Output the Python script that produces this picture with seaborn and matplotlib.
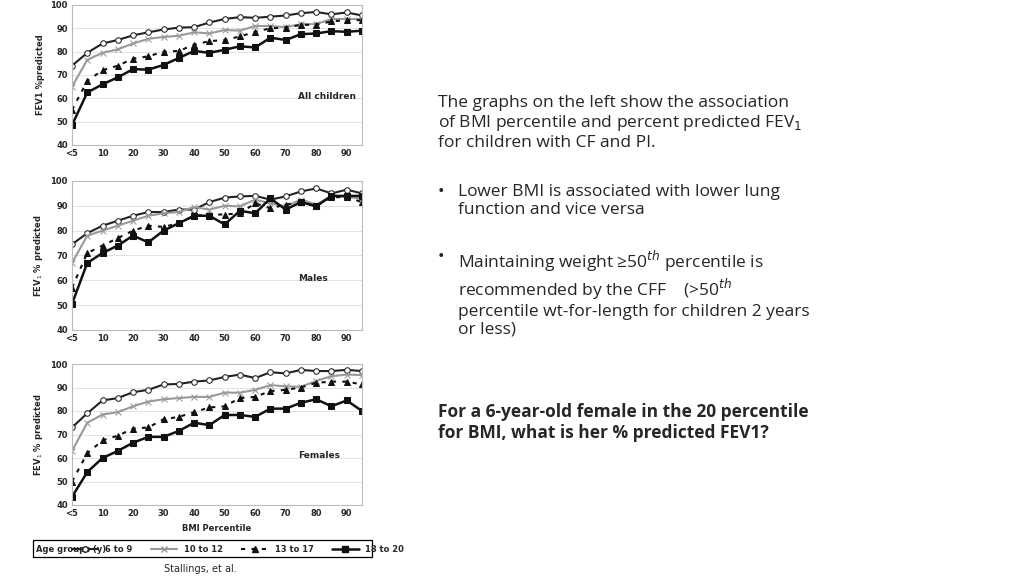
import numpy as np
import pandas as pd
import matplotlib
matplotlib.use("Agg")
import matplotlib.pyplot as plt
import seaborn as sns
from matplotlib.lines import Line2D
from matplotlib.patches import Rectangle

sns.set_style("white")

# BMI percentile positions: "<5", 5, 10, ... 95
bmi_pct = [0, 5, 10, 15, 20, 25, 30, 35, 40, 45, 50, 55, 60, 65, 70, 75, 80, 85, 90, 95]
tick_pos = [0, 10, 20, 30, 40, 50, 60, 70, 80, 90]
tick_labels = ["<5", "10", "20", "30", "40", "50", "60", "70", "80", "90"]
age_groups = ["6 to 9", "10 to 12", "13 to 17", "18 to 20"]

all_children = {
    "6 to 9":   [74, 79.5, 83.5, 85, 87, 88.3, 89.5, 90.3, 90.5, 92.5, 94, 94.8, 94.5, 95, 95.5, 96.5, 97, 96, 96.8, 95.5],
    "10 to 12": [65, 76.5, 79.5, 81, 83.5, 85.5, 86.3, 86.8, 88.3, 87.8, 89.3, 89, 91, 91, 90.5, 91.8, 91.8, 94, 94, 94],
    "13 to 17": [55, 67.5, 72, 74, 77, 78, 80, 80.3, 83, 84.5, 85, 86.5, 88.5, 90, 90.3, 91.5, 91.5, 93, 93.5, 93.5],
    "18 to 20": [48.5, 62.5, 66, 69, 72.5, 72.3, 74.3, 77.3, 80.3, 79.5, 80.8, 82.3, 81.8, 86, 85, 87.5, 87.8, 88.8, 88.5, 89],
}
males = {
    "6 to 9":   [74.5, 79, 82, 84, 86, 87.5, 87.5, 88.5, 88.5, 91.5, 93.3, 93.8, 94, 92.5, 93.8, 95.8, 97, 95, 96.5, 95],
    "10 to 12": [67, 78, 80, 82, 84, 86, 87, 87.5, 89.5, 88.5, 90, 89.8, 92.5, 91, 89.8, 92.5, 90.5, 94, 93.5, 93],
    "13 to 17": [57, 71, 74, 77, 80, 82, 81.5, 83, 86, 86.5, 86.5, 87, 91, 89, 90.5, 91.5, 90, 93.5, 93.5, 91.5],
    "18 to 20": [50.5, 67, 71, 74, 78, 75.3, 80, 83, 86, 86, 82.5, 88, 87, 93, 88.5, 91.5, 89.8, 94, 94, 94],
}
females = {
    "6 to 9":   [73, 79, 84.5, 85.5, 88, 89, 91.3, 91.5, 92.5, 93, 94.5, 95.5, 94, 96.5, 96, 97.5, 97, 97, 97.5, 97],
    "10 to 12": [63, 75, 78.5, 79.5, 82, 84, 85, 85.5, 86, 86, 87.8, 87.8, 89, 91, 90.5, 90.3, 92.8, 94.8, 95.5, 95.3],
    "13 to 17": [50, 62, 67.5, 69.5, 72.5, 73, 76.5, 77.5, 79.5, 81.5, 82, 85.5, 86, 88.5, 89, 90, 92, 92.5, 92.5, 91.3],
    "18 to 20": [43.5, 54, 60, 63, 66.5, 69, 69, 71.5, 75, 74, 78.3, 78.3, 77.5, 81, 81, 83.5, 85, 82, 84.5, 80],
}

styles = {
    "6 to 9":   dict(color="#222222", marker="o", mfc="white", ls="-", lw=1.5, ms=4),
    "10 to 12": dict(color="#999999", marker="x", mfc="none", ls="-", lw=1.5, ms=5),
    "13 to 17": dict(color="#111111", marker="^", mfc="#111111", ls=(0, (2, 3)), lw=1.5, ms=4),
    "18 to 20": dict(color="#111111", marker="s", mfc="#111111", ls="-", lw=1.8, ms=4),
}


def draw_panel(ax, data, label, ylabel, xlabel=None):
    for g in age_groups:
        df = pd.DataFrame({"bmi": bmi_pct, "fev": data[g]})
        st = styles[g]
        sns.lineplot(data=df, x="bmi", y="fev", ax=ax, color=st["color"], lw=st["lw"],
                     linestyle=st["ls"], marker=st["marker"], markersize=st["ms"],
                     markerfacecolor=st["mfc"], markeredgecolor=st["color"])
    ax.set_xlim(0, 95)
    ax.set_ylim(40, 100)
    ax.set_yticks(range(40, 101, 10))
    ax.set_xticks(tick_pos)
    ax.set_xticklabels(tick_labels)
    ax.tick_params(labelsize=6, length=0, pad=3)
    for t in ax.get_xticklabels() + ax.get_yticklabels():
        t.set_fontweight("bold")
    ax.grid(axis="y", color="#dddddd", lw=0.6)
    for s in ax.spines.values():
        s.set_color("#bbbbbb")
        s.set_linewidth(0.8)
    ax.set_ylabel(ylabel, fontsize=6, fontweight="bold")
    ax.set_xlabel(xlabel if xlabel else "", fontsize=6, fontweight="bold")
    ax.text(0.78, 0.33, label, transform=ax.transAxes, fontsize=6.5, fontweight="bold")


fig = plt.figure(figsize=(10.24, 5.76), dpi=100)
W, H = 1024, 576


def axes_px(x0, y0, x1, y1):
    return fig.add_axes([x0 / W, 1 - y1 / H, (x1 - x0) / W, (y1 - y0) / H])


ax1 = axes_px(72, 5, 362, 145)
draw_panel(ax1, all_children, "All children", "FEV1 %predicted")
ax2 = axes_px(72, 181, 362, 330)
draw_panel(ax2, males, "Males", "FEV$_1$ % predicted")
ax3 = axes_px(72, 364, 362, 505)
draw_panel(ax3, females, "Females", "FEV$_1$ % predicted", "BMI Percentile")

# legend box
handles = [Line2D([], [], color=styles[g]["color"], ls=styles[g]["ls"], lw=styles[g]["lw"],
                  marker=styles[g]["marker"], ms=styles[g]["ms"], mfc=styles[g]["mfc"],
                  mec=styles[g]["color"]) for g in age_groups]
fig.legend(handles, age_groups, loc="center", bbox_to_anchor=(238 / W, 1 - 549 / H),
           ncol=4, frameon=False, handlelength=3.2, columnspacing=2.2,
           prop={"weight": "bold", "size": 6})
fig.patches.append(Rectangle((33 / W, 1 - 557 / H), 339 / W, 17 / H, transform=fig.transFigure,
                             fill=False, edgecolor="black", lw=0.9))
fig.text(36 / W, 1 - 549 / H, "Age groups (y)", fontsize=6, fontweight="bold", va="center")

fig.text(200 / W, 1 - 569 / H, "Stallings, et al.", fontsize=7, ha="center", va="center")

txt = dict(fontsize=12.5, fontfamily="Open Sans", va="top")
fig.text(438 / W, 1 - 95 / H, "The graphs on the left show the association\n"
         "of BMI percentile and percent predicted FEV$_1$\nfor children with CF and PI.",
         linespacing=1.15, **txt)
fig.text(438 / W, 1 - 184 / H, "•", **txt)
fig.text(458 / W, 1 - 184 / H, "Lower BMI is associated with lower lung\nfunction and vice versa",
         linespacing=1.15, **txt)
fig.text(438 / W, 1 - 249 / H, "•", **txt)
fig.text(458 / W, 1 - 249 / H,
         "Maintaining weight \u226550$^{th}$ percentile is\n"
         "recommended by the CFF    (>50$^{th}$\n"
         "percentile wt-for-length for children 2 years\nor less)",
         linespacing=1.15, **txt)
fig.text(438 / W, 1 - 403 / H, "For a 6-year-old female in the 20 percentile\n"
         "for BMI, what is her % predicted FEV1?", fontweight="bold", linespacing=1.2, **txt)

fig.savefig("out.png", dpi=100, facecolor="white")
